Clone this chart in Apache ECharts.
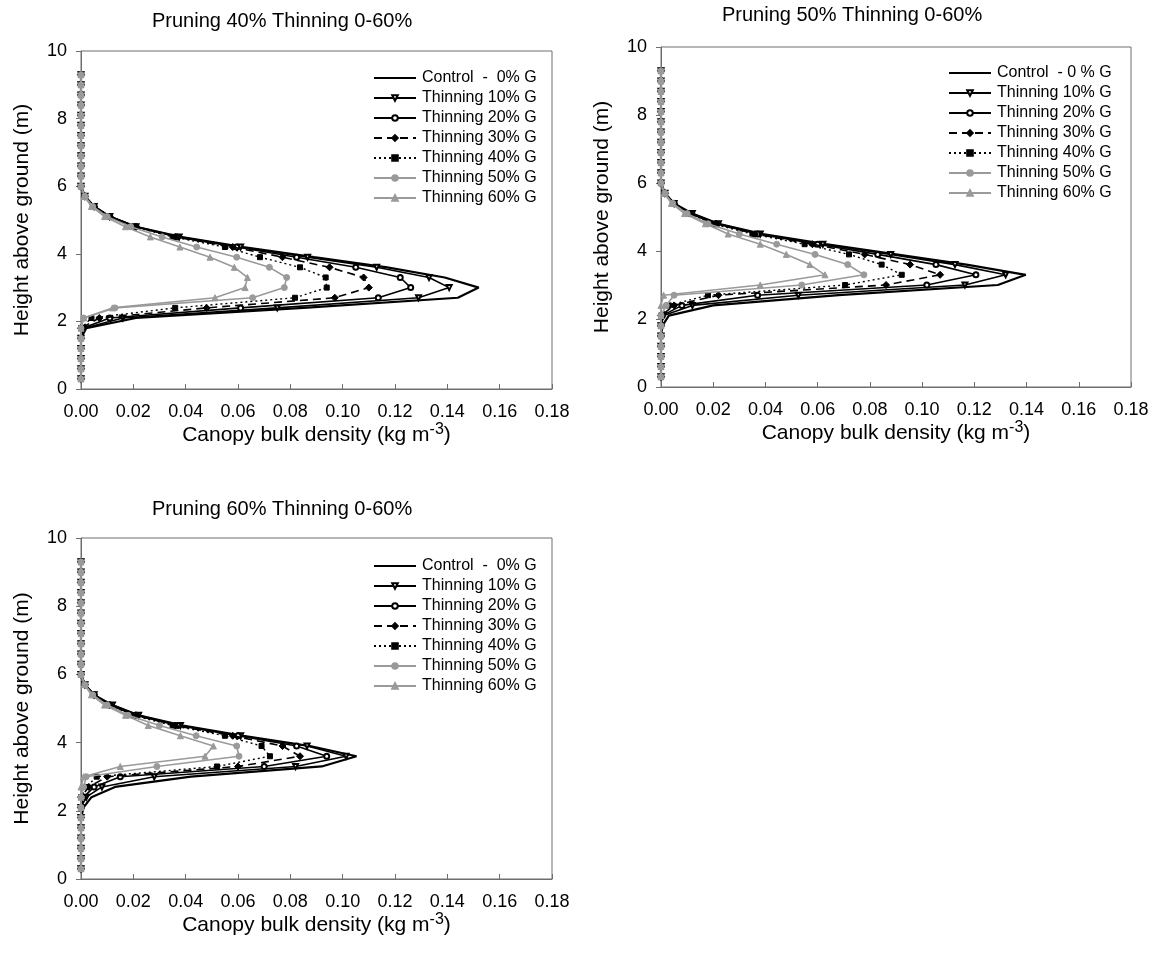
<!DOCTYPE html>
<html>
<head>
<meta charset="utf-8">
<script src="https://cdn.jsdelivr.net/npm/echarts@6/dist/echarts.min.js"></script>
<style>
  html, body { margin: 0; padding: 0; background: #fff; }
  #chart { width: 1155px; height: 960px; }
</style>
</head>
<body>
<div id="chart"></div>
<script>
// heights of the measurement layers (m)
const heights = [0.3, 0.6, 0.9, 1.2, 1.5, 1.8, 2.1, 2.4, 2.7, 3.0, 3.3, 3.6, 3.9, 4.2, 4.5, 4.8,
  5.1, 5.4, 5.7, 6.0, 6.3, 6.6, 6.9, 7.2, 7.5, 7.8, 8.1, 8.4, 8.7, 9.0, 9.3]

const xTicks = ['0.00', '0.02', '0.04', '0.06', '0.08', '0.10', '0.12', '0.14', '0.16', '0.18']
const yTicks = [0, 2, 4, 6, 8, 10]

const titles = ['Pruning 40% Thinning 0-60%', 'Pruning 50% Thinning 0-60%', 'Pruning 60% Thinning 0-60%']
const seriesNames = [
  ['Control  -  0% G', 'Thinning 10% G', 'Thinning 20% G', 'Thinning 30% G', 'Thinning 40% G', 'Thinning 50% G', 'Thinning 60% G'],
  ['Control  - 0 % G', 'Thinning 10% G', 'Thinning 20% G', 'Thinning 30% G', 'Thinning 40% G', 'Thinning 50% G', 'Thinning 60% G'],
  ['Control  -  0% G', 'Thinning 10% G', 'Thinning 20% G', 'Thinning 30% G', 'Thinning 40% G', 'Thinning 50% G', 'Thinning 60% G']
]

// canopy bulk density (kg m-3) per height, pruning 40%
const p40Control = [0, 0, 0, 0, 0, 0.002, 0.021, 0.085, 0.144, 0.152, 0.139, 0.117, 0.089, 0.062, 0.038, 0.021, 0.011, 0.005, 0.0015, 0, 0, 0, 0, 0, 0, 0, 0, 0, 0, 0, 0]
const p40T10 = [0, 0, 0, 0, 0, 0.001, 0.016, 0.075, 0.129, 0.1407, 0.133, 0.113, 0.0866, 0.061, 0.0375, 0.021, 0.011, 0.005, 0.0015, 0, 0, 0, 0, 0, 0, 0, 0, 0, 0, 0, 0]
const p40T20 = [0, 0, 0, 0, 0, 0.0005, 0.011, 0.061, 0.1136, 0.126, 0.122, 0.105, 0.0824, 0.0595, 0.0366, 0.021, 0.011, 0.005, 0.0015, 0, 0, 0, 0, 0, 0, 0, 0, 0, 0, 0, 0]
const p40T30 = [0, 0, 0, 0, 0, 0, 0.007, 0.048, 0.097, 0.110, 0.108, 0.095, 0.077, 0.058, 0.036, 0.021, 0.011, 0.005, 0.0015, 0, 0, 0, 0, 0, 0, 0, 0, 0, 0, 0, 0]
const p40T40 = [0, 0, 0, 0, 0, 0, 0.004, 0.036, 0.0818, 0.0939, 0.0935, 0.0837, 0.0684, 0.055, 0.035, 0.020, 0.011, 0.005, 0.0015, 0, 0, 0, 0, 0, 0, 0, 0, 0, 0, 0, 0]
const p40T50 = [0, 0, 0, 0, 0, 0, 0.001, 0.013, 0.0656, 0.0777, 0.0786, 0.072, 0.0595, 0.0442, 0.031, 0.019, 0.010, 0.0045, 0.0015, 0, 0, 0, 0, 0, 0, 0, 0, 0, 0, 0, 0]
const p40T60 = [0, 0, 0, 0, 0, 0, 0.001, 0.012, 0.0512, 0.0627, 0.0636, 0.0586, 0.0493, 0.0378, 0.0265, 0.017, 0.009, 0.004, 0.0012, 0, 0, 0, 0, 0, 0, 0, 0, 0, 0, 0, 0]

// pruning 50%
const p50Control = [0, 0, 0, 0, 0, 0.0005, 0.003, 0.020, 0.068, 0.129, 0.1397, 0.117, 0.090, 0.063, 0.039, 0.022, 0.012, 0.005, 0.0015, 0, 0, 0, 0, 0, 0, 0, 0, 0, 0, 0, 0]
const p50T10 = [0, 0, 0, 0, 0, 0, 0.001, 0.012, 0.0526, 0.1164, 0.132, 0.1126, 0.088, 0.062, 0.038, 0.022, 0.012, 0.005, 0.0015, 0, 0, 0, 0, 0, 0, 0, 0, 0, 0, 0, 0]
const p50T20 = [0, 0, 0, 0, 0, 0, 0.0005, 0.008, 0.037, 0.1018, 0.1206, 0.1053, 0.083, 0.060, 0.037, 0.021, 0.011, 0.005, 0.0015, 0, 0, 0, 0, 0, 0, 0, 0, 0, 0, 0, 0]
const p50T30 = [0, 0, 0, 0, 0, 0, 0, 0.005, 0.022, 0.0862, 0.1069, 0.0954, 0.078, 0.058, 0.036, 0.021, 0.011, 0.005, 0.0015, 0, 0, 0, 0, 0, 0, 0, 0, 0, 0, 0, 0]
const p50T40 = [0, 0, 0, 0, 0, 0, 0, 0.003, 0.018, 0.0705, 0.0922, 0.0845, 0.072, 0.055, 0.035, 0.020, 0.011, 0.005, 0.0015, 0, 0, 0, 0, 0, 0, 0, 0, 0, 0, 0, 0]
const p50T50 = [0, 0, 0, 0, 0, 0, 0, 0.002, 0.005, 0.0539, 0.0777, 0.0715, 0.059, 0.0443, 0.030, 0.018, 0.010, 0.0045, 0.0015, 0, 0, 0, 0, 0, 0, 0, 0, 0, 0, 0, 0]
const p50T60 = [0, 0, 0, 0, 0, 0, 0, 0, 0.001, 0.038, 0.0628, 0.057, 0.048, 0.038, 0.0257, 0.017, 0.009, 0.004, 0.0012, 0, 0, 0, 0, 0, 0, 0, 0, 0, 0, 0, 0]

// pruning 60%
const p60Control = [0, 0, 0, 0, 0, 0, 0.001, 0.004, 0.013, 0.042, 0.092, 0.1053, 0.0875, 0.062, 0.039, 0.022, 0.012, 0.005, 0.0015, 0, 0, 0, 0, 0, 0, 0, 0, 0, 0, 0, 0]
const p60T10 = [0, 0, 0, 0, 0, 0, 0, 0.002, 0.008, 0.028, 0.082, 0.1013, 0.0864, 0.061, 0.038, 0.022, 0.012, 0.005, 0.0015, 0, 0, 0, 0, 0, 0, 0, 0, 0, 0, 0, 0]
const p60T20 = [0, 0, 0, 0, 0, 0, 0, 0.001, 0.005, 0.015, 0.070, 0.0939, 0.0824, 0.060, 0.037, 0.021, 0.011, 0.005, 0.0015, 0, 0, 0, 0, 0, 0, 0, 0, 0, 0, 0, 0]
const p60T30 = [0, 0, 0, 0, 0, 0, 0, 0, 0.003, 0.010, 0.060, 0.0837, 0.077, 0.058, 0.036, 0.021, 0.011, 0.005, 0.0015, 0, 0, 0, 0, 0, 0, 0, 0, 0, 0, 0, 0]
const p60T40 = [0, 0, 0, 0, 0, 0, 0, 0, 0.002, 0.006, 0.052, 0.0722, 0.069, 0.055, 0.035, 0.020, 0.011, 0.005, 0.0015, 0, 0, 0, 0, 0, 0, 0, 0, 0, 0, 0, 0]
const p60T50 = [0, 0, 0, 0, 0, 0, 0, 0, 0.001, 0.002, 0.029, 0.0604, 0.0595, 0.044, 0.030, 0.018, 0.010, 0.0045, 0.0015, 0, 0, 0, 0, 0, 0, 0, 0, 0, 0, 0, 0]
const p60T60 = [0, 0, 0, 0, 0, 0, 0, 0, 0, 0.001, 0.015, 0.0474, 0.0506, 0.038, 0.0257, 0.017, 0.009, 0.004, 0.0012, 0, 0, 0, 0, 0, 0, 0, 0, 0, 0, 0, 0]

const panels = [
  [p40Control, p40T10, p40T20, p40T30, p40T40, p40T50, p40T60],
  [p50Control, p50T10, p50T20, p50T30, p50T40, p50T50, p50T60],
  [p60Control, p60T10, p60T20, p60T30, p60T40, p60T50, p60T60]
]

const BLACK = '#000'
const GREY = '#9a9a9a'
const FONT = 'Liberation Sans, Arial, sans-serif'
// plain line for the control entry in the legends
const CONTROL_ICON = 'path://M0,0 L0.01,0 M0,2.5 L42,2.5 L42,4.5 L0,4.5 Z M0,7 L0.01,7'

// line look of each treatment, same order as the arrays
const looks = [
  { color: BLACK, width: 2.2, type: 'solid', symbol: 'none', size: 0 },
  { color: BLACK, width: 1.6, type: 'solid', symbol: 'emptyTriangle', size: 5, rotate: 180 },
  { color: BLACK, width: 1.6, type: 'solid', symbol: 'emptyCircle', size: 5 },
  { color: BLACK, width: 1.6, type: [8, 5], symbol: 'diamond', size: 7 },
  { color: BLACK, width: 1.4, type: [2, 3], symbol: 'rect', size: 5 },
  { color: GREY, width: 1.6, type: 'solid', symbol: 'circle', size: 6 },
  { color: GREY, width: 1.6, type: 'solid', symbol: 'triangle', size: 6 }
]

// grid boxes, legend and title spots (px)
const boxes = [
  { left: 81, top: 51, width: 471, height: 338, title: [147, 6], legend: [368, 65] },
  { left: 661, top: 47, width: 470, height: 340, title: [717, 0], legend: [943, 60] },
  { left: 81, top: 538, width: 471, height: 341, title: [147, 494], legend: [368, 553] }
]

const el = document.getElementById('chart')
const chart = echarts.init(el)

const option = {
  animation: false,
  backgroundColor: '#fff',
  textStyle: { fontFamily: FONT },
  title: boxes.map((b, i) => ({
    text: titles[i],
    left: b.title[0],
    top: b.title[1],
    textStyle: { fontFamily: FONT, fontSize: 20, fontWeight: 'normal', color: '#000' }
  })),
  legend: boxes.map((b, i) => ({
    left: b.legend[0],
    top: b.legend[1],
    orient: 'vertical',
    itemWidth: 42,
    itemHeight: 7,
    itemGap: 4,
    data: seriesNames[i].map((n, k) => (k === 0
      ? { name: n, icon: CONTROL_ICON, itemStyle: { borderWidth: 0 } }
      : n)),
    selectedMode: false,
    textStyle: { fontFamily: FONT, fontSize: 16, color: '#000', padding: [0, 0, 0, 1] }
  })),
  grid: boxes.map(b => ({
    left: b.left, top: b.top, width: b.width, height: b.height,
    show: true, borderColor: '#6e6e6e', borderWidth: 1, backgroundColor: 'transparent'
  })),
  xAxis: boxes.map((b, i) => ({
    gridIndex: i,
    type: 'value',
    min: 0,
    max: 0.18,
    interval: 0.02,
    name: '{a|Canopy bulk density (kg m}{s|-3}{a|)}',
    nameLocation: 'middle',
    nameGap: 31,
    nameTextStyle: {
      rich: {
        a: { fontFamily: FONT, fontSize: 21, color: '#000' },
        s: { fontFamily: FONT, fontSize: 16, color: '#000', padding: [0, 0, 11, 0] }
      }
    },
    splitLine: { show: false },
    axisLine: { lineStyle: { color: '#6e6e6e' } },
    axisTick: { inside: true, length: 5, lineStyle: { color: '#6e6e6e' } },
    axisLabel: {
      margin: 14, fontSize: 18, color: '#000', fontFamily: FONT,
      formatter: v => xTicks[Math.round(v / 0.02)]
    }
  })),
  yAxis: boxes.map((b, i) => ({
    gridIndex: i,
    type: 'value',
    min: yTicks[0],
    max: yTicks[yTicks.length - 1],
    interval: 2,
    name: 'Height above ground (m)',
    nameLocation: 'middle',
    nameRotate: 90,
    nameGap: 48,
    nameTextStyle: { fontFamily: FONT, fontSize: 21, color: '#000' },
    splitLine: { show: false },
    axisLine: { lineStyle: { color: '#6e6e6e' } },
    axisTick: { inside: false, length: 5, lineStyle: { color: '#6e6e6e' } },
    axisLabel: { margin: 14, fontSize: 18, color: '#000', fontFamily: FONT }
  })),
  series: []
}

panels.forEach((arrs, p) => {
  arrs.forEach((vals, k) => {
    const lk = looks[k]
    option.series.push({
      type: 'line',
      name: seriesNames[p][k],
      xAxisIndex: p,
      yAxisIndex: p,
      data: heights.map((h, j) => [vals[j], h]),
      clip: false,
      symbol: lk.symbol,
      symbolSize: lk.size,
      symbolRotate: lk.rotate || 0,
      showSymbol: lk.symbol !== 'none',
      color: lk.color,
      itemStyle: { color: lk.color, borderColor: lk.color, borderWidth: 1 },
      lineStyle: { color: lk.color, width: lk.width, type: lk.type },
      emphasis: { disabled: true },
      z: 2 + k
    })
  })
})

chart.setOption(option)
</script>
</body>
</html>
